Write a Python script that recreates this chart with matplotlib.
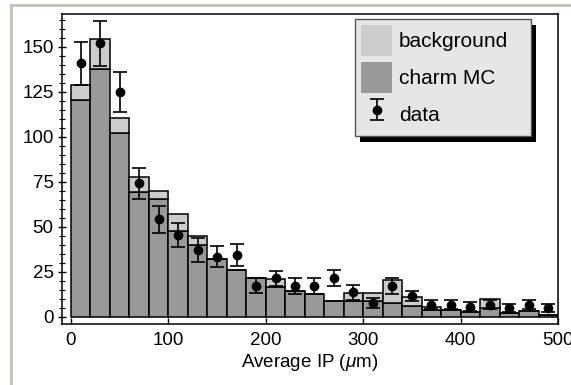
import matplotlib
matplotlib.use("Agg")
import matplotlib.pyplot as plt
from matplotlib.patches import Rectangle, Patch
from matplotlib.lines import Line2D
import numpy as np

plt.rcParams['font.family'] = ['Liberation Sans', 'DejaVu Sans']
plt.rcParams['mathtext.fontset'] = 'custom'
plt.rcParams['mathtext.it'] = 'Liberation Sans:italic'
plt.rcParams['mathtext.rm'] = 'Liberation Sans'

bin_edges = list(range(0, 501, 20))
charm = [120.5, 137.6, 102, 69.3, 65.5, 48, 40, 32.4, 25.9, 21.9, 16.7, 14.4, 12.6,
         8.9, 8.9, 9.1, 7.6, 6.1, 3.9, 3.9, 3.0, 4.8, 2.4, 3.3, 1.1]
total = [129, 154.6, 110.6, 78, 69.8, 57.2, 45.2, 32.4, 25.9, 21.9, 21.1, 14.6, 12.6,
         8.9, 13.2, 13.5, 20.6, 11.3, 5.4, 3.9, 3.0, 9.8, 2.4, 3.3, 1.1]
data = [141, 152, 125, 74.3, 54.3, 45.5, 37.2, 33.5, 34.4, 17.4, 21.5, 17.4, 17.4,
        21.5, 13.7, 7.6, 17.2, 11.7, 6.7, 6.7, 5.7, 6.7, 4.8, 6.7, 4.8]
err = [12, 12.4, 11, 8.7, 7.4, 6.9, 6.4, 6, 5.9, 4.3, 4.3, 4.4, 4.4, 4.4, 4, 2.8,
       4.4, 3, 2.5, 2.5, 2.5, 2.5, 2.2, 2.5, 2.2]
xticks = [0, 100, 200, 300, 400, 500]
yticks = [0, 25, 50, 75, 100, 125, 150]
labels = ['background', 'charm MC', 'data']

edges = np.array(bin_edges, dtype=float)
left = edges[:-1]
width = np.diff(edges)
centers = left + width / 2
charm_a = np.array(charm)
bkg = np.array(total) - charm_a

FW, FH = 571, 385
fig = plt.figure(figsize=(5.71, 3.85), dpi=100)
ax = fig.add_axes([62/FW, 61/FH, (558-62)/FW, (324-14)/FH])

ax.bar(left, charm_a, width=width, align='edge', color='#999999',
       edgecolor='black', linewidth=1.1, zorder=2)
ax.bar(left, bkg, bottom=charm_a, width=width, align='edge', color='#cccccc',
       edgecolor='black', linewidth=1.1, zorder=2)
eb = ax.errorbar(centers, data, yerr=err, fmt='o', color='black', markersize=6,
                 capsize=5, elinewidth=1.2, capthick=1.2, zorder=3)

ax.set_xlim(-9.2, 500)
ax.set_ylim(-3.9, 168.3)
ax.set_xticks(xticks)
ax.set_yticks(yticks)
ax.set_yticks(np.arange(0, 166, 5), minor=True)
ax.tick_params(axis='x', direction='in', length=4, width=1, labelsize=13.5, pad=6)
ax.tick_params(axis='y', which='major', direction='inout', length=6, width=1,
               labelsize=13.5, pad=3)
ax.tick_params(axis='y', which='minor', direction='inout', length=4, width=0.8)
for s in ax.spines.values():
    s.set_linewidth(1.1)
ax.set_xlabel(r'Average IP ($\mu$m)', fontsize=13.5, labelpad=2)

# legend box (frame + shadow) in figure pixels
lx0, ly0, lx1, ly1 = 355, 19, 531, 136
def fr(x, y):
    return (x / FW, 1 - y / FH)
shadow = Rectangle(fr(lx0 + 5, ly1 + 6), (lx1 - lx0) / FW, (ly1 - ly0) / FH,
                   transform=fig.transFigure, facecolor='black', edgecolor='none',
                   zorder=5, clip_on=False)
ax.add_patch(shadow)
frame = Rectangle(fr(lx0, ly1), (lx1 - lx0) / FW, (ly1 - ly0) / FH,
                  transform=fig.transFigure, facecolor='#e6e6e6', edgecolor='#555555',
                  linewidth=1.0, zorder=5.5, clip_on=False)
ax.add_patch(frame)

handles = [Patch(facecolor='#cccccc', edgecolor='none'),
           Patch(facecolor='#999999', edgecolor='none'),
           eb]
leg = ax.legend(handles, labels, loc='upper left',
                bbox_to_anchor=fr(lx0 + 1, ly0 + 1), bbox_transform=fig.transFigure,
                fontsize=15, frameon=False,
                handlelength=1.5, handleheight=1.9, handletextpad=0.3,
                labelspacing=0.28, borderpad=0.25, borderaxespad=0)
leg.set_zorder(6)

# outer frame lines
fig.add_artist(Line2D([11/FW, 1], [1 - 5/FH, 1 - 5/FH], transform=fig.transFigure,
                      color='#c8c0b6', linewidth=2))
fig.add_artist(Line2D([11/FW, 11/FW], [0, 1 - 5/FH], transform=fig.transFigure,
                      color='#c8c0b6', linewidth=2))

fig.savefig('out.png', dpi=100)
